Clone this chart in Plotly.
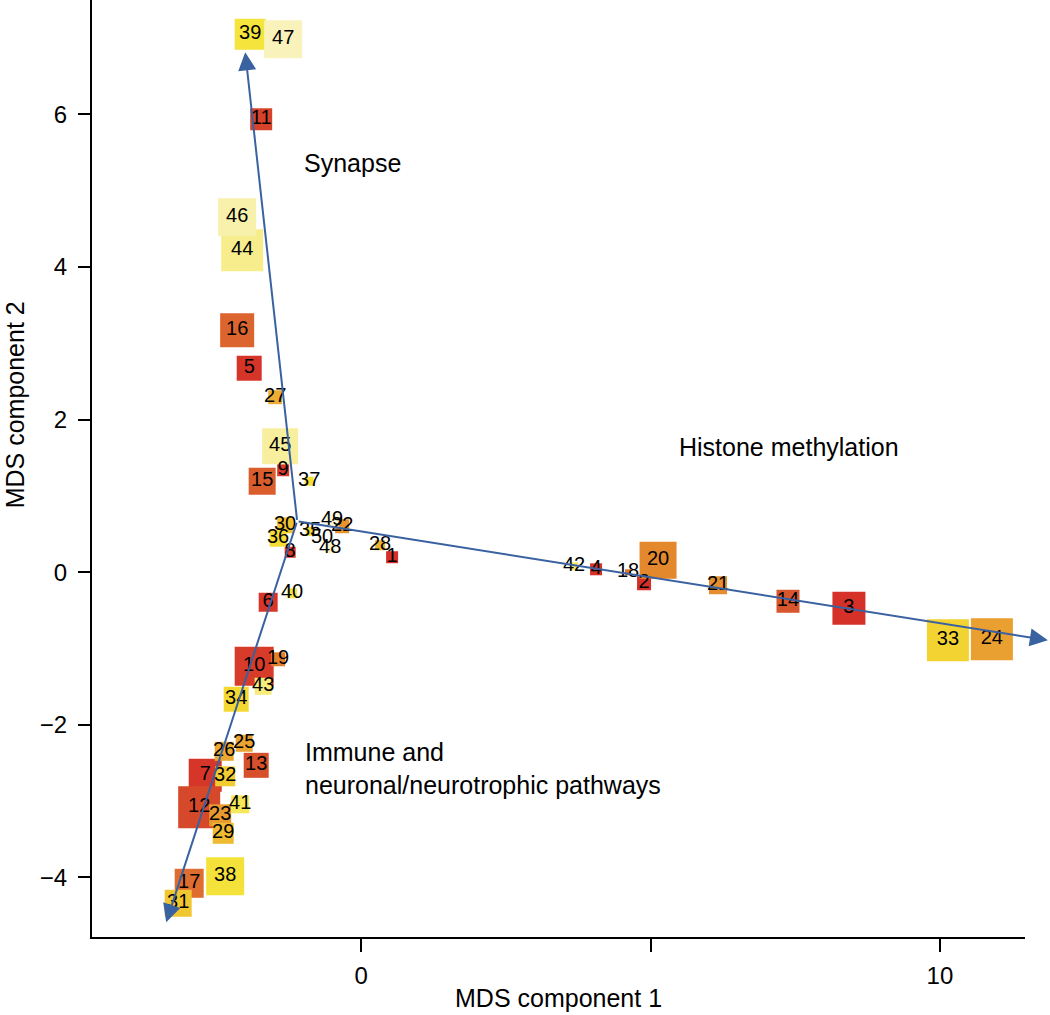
import plotly.graph_objects as go

# ---- data ----
labels = [str(i) for i in range(1, 51)]
mds1 = [0.535, 4.888, 8.428, 4.059, -1.934, -1.606, -2.694, -1.226, -1.347, -1.848,
        -1.727, -2.798, -1.813, 7.375, -1.710, -2.142, -2.971, 4.611, -1.434, 5.130,
        6.166, -0.328, -2.435, 10.898, -2.021, -2.366, -1.485, 0.328, -2.383, -1.313,
        -3.161, -2.349, 10.138, -2.159, -0.881, -1.434, -0.898, -2.349, -1.917, -1.192,
        -2.090, 3.679, -1.693, -2.055, -1.399, -2.142, -1.347, -0.535, -0.501, -0.674]
mds2 = [0.197, -0.144, -0.472, 0.039, 2.674, -0.393, -2.661, 0.262, 1.337, -1.232,
        5.937, -3.080, -2.530, -0.380, 1.193, 3.172, -4.076, 0.000, -1.140, 0.157,
        -0.170, 0.603, -3.185, -0.878, -2.241, -2.346, 2.294, 0.354, -3.421, 0.616,
        -4.338, -2.674, -0.891, -1.664, 0.537, 0.446, 1.193, -3.984, 7.051, -0.275,
        -3.041, 0.079, -1.494, 4.220, 1.651, 4.653, 6.986, 0.315, 0.682, 0.446]
weight = [6, 7, 16.5, 6, 12.5, 9.5, 16.5, 5.5, 6, 19.5,
          11, 21, 12.5, 11.5, 13.5, 17, 14.5, 3, 7, 18.5,
          9, 7, 11, 21, 8.5, 9.5, 7, 5, 10.5, 8,
          13.5, 10, 21, 12.5, 4.5, 8.5, 4.5, 19, 15.5, 5,
          9, 4, 8.5, 21, 18, 19, 19, 5, 6.5, 4]
rank = list(range(1, 51))

# biplot loading arrows: origin and tips (MDS coordinates)
arrow_origin = (-1.105, 0.668)
arrow_tips_x = [-2.003, 11.865, -3.368]
arrow_tips_y = [6.815, -0.891, -4.587]

# region labels
region_text = ["Synapse", "Histone methylation", "Immune and<br>neuronal/neurotrophic pathways"]
region_x = [-1.02, 5.46, -1.0]
region_y = [5.36, 1.64, -2.57]

heat_scale = [
    [0.00, "#d42f29"], [0.18, "#d73a2a"], [0.22, "#d5482a"], [0.30, "#db612f"],
    [0.38, "#e4862e"], [0.46, "#e99d31"], [0.54, "#eeb033"], [0.60, "#f1c431"],
    [0.68, "#f4da32"], [0.78, "#f4e43c"], [0.84, "#f6ea6c"], [0.90, "#f7efa0"],
    [0.96, "#faf4c8"], [1.00, "#fefcf0"],
]

FONT = "Liberation Sans, Arial"

fig = go.Figure()
fig.add_trace(go.Scatter(
    x=mds1, y=mds2, mode="markers+text", text=labels,
    textposition="middle center",
    textfont=dict(family=FONT, size=20, color="black"),
    marker=dict(symbol="square", size=[w * 2 for w in weight], opacity=1,
                color=rank, colorscale=heat_scale, cmin=1, cmax=50,
                line=dict(width=0)),
    cliponaxis=False, showlegend=False, hoverinfo="skip",
))

arrow_color = "#3a62a1"
for tx, ty in zip(arrow_tips_x, arrow_tips_y):
    fig.add_annotation(x=tx, y=ty, xref="x", yref="y",
                       ax=arrow_origin[0], ay=arrow_origin[1], axref="x", ayref="y",
                       text="", showarrow=True, arrowhead=2, arrowsize=1.8,
                       arrowwidth=2, arrowcolor=arrow_color, standoff=0, startstandoff=0)

for t, x, y in zip(region_text, region_x, region_y):
    fig.add_annotation(x=x, y=y, xref="x", yref="y", text=t, showarrow=False,
                       xanchor="left", yanchor="middle", align="left",
                       font=dict(family=FONT, size=25, color="black"))

# axis titles
fig.add_annotation(x=0.5, y=-0.065, xref="paper", yref="paper", text="MDS component 1",
                   showarrow=False, xanchor="center", yanchor="middle",
                   font=dict(family=FONT, size=25, color="black"))
fig.add_annotation(x=-0.083, y=0.568, xref="paper", yref="paper", text="MDS component 2",
                   showarrow=False, xanchor="center", yanchor="middle", textangle=-90,
                   font=dict(family=FONT, size=25, color="black"))

axis_font = dict(family=FONT, size=24, color="black")
fig.update_layout(
    width=1050, height=1015,
    margin=dict(l=92, r=25, t=0, b=78, autoexpand=False),
    paper_bgcolor="white", plot_bgcolor="white",
    font=dict(family=FONT, color="black"),
    xaxis=dict(range=[-4.65, 11.47], tickvals=[0, 5, 10], ticktext=["0", "", "10"],
               showgrid=False, zeroline=False, showline=True, linecolor="black",
               linewidth=2, ticks="outside", ticklen=13, tickwidth=1.5,
               tickcolor="black", tickfont=axis_font, automargin=False,
               ticklabelstandoff=3),
    yaxis=dict(range=[-4.78, 7.50], tickvals=[-4, -2, 0, 2, 4, 6],
               showgrid=False, zeroline=False, showline=True, linecolor="black",
               linewidth=2, ticks="outside", ticklen=12, tickwidth=1.5,
               tickcolor="black", tickfont=axis_font, automargin=False,
               ticklabelstandoff=6),
)

fig.write_html("out.html", config={"displayModeBar": False},
               post_script="document.body.style.margin='0';document.body.style.padding='0';")
